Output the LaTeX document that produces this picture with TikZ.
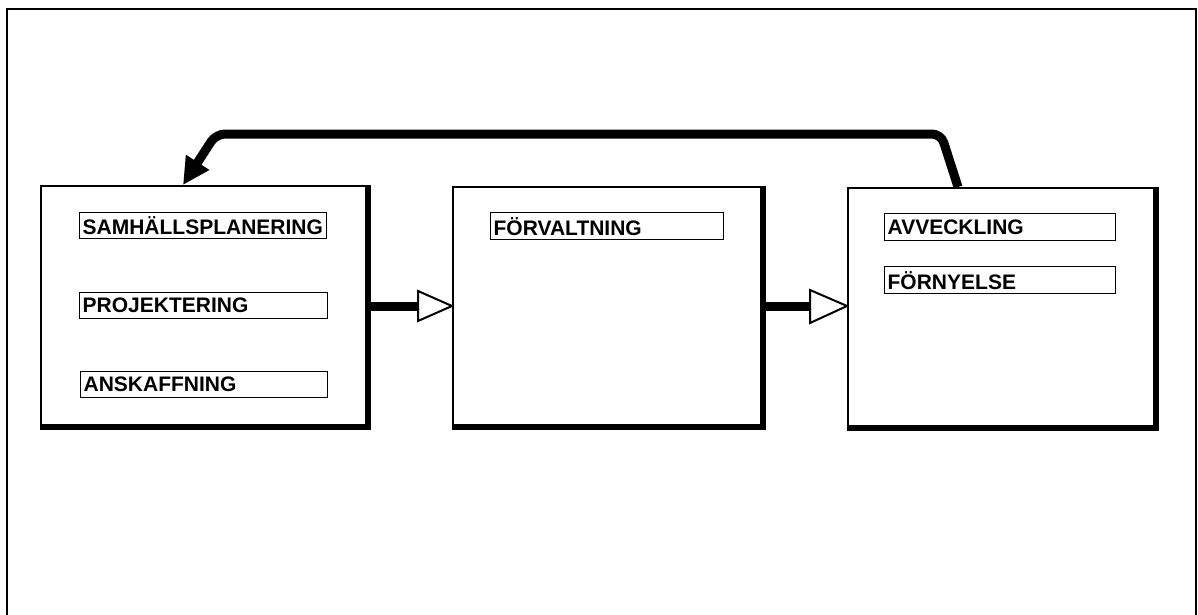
\documentclass[tikz,border=0pt]{standalone}
\usepackage{fontspec}
\setmainfont{Liberation Sans}
\usetikzlibrary{arrows.meta,calc}
\tikzset{
  mainbox/.style={draw, line width=1.6pt, anchor=north west, inner sep=0pt},
  lab/.style={draw, line width=1.3pt, anchor=north west, inner xsep=3pt, inner ysep=0pt,
    align=left, font=\fontsize{21}{22}\selectfont\bfseries},
  shadowedge/.style={line width=5pt, line cap=rect},
  shaft/.style={line width=9pt},
  openhead/.style={draw, fill=white, line width=2pt, line join=miter},
  feedback/.style={line width=9pt, rounded corners=9pt, -{Triangle[length=27pt,width=26pt]}}
}
\begin{document}
\begin{tikzpicture}[x=1pt,y=-1pt]
\useasboundingbox (0,0) rectangle (1198,615);
% outer frame (open at bottom)
\draw[line width=1.8pt] (7,615) -- (7,9) -- (1196,9) -- (1196,615);

% main boxes
\node[mainbox, minimum width=325pt, minimum height=239pt] (b1) at (40,185) {};
\node[mainbox, minimum width=308pt, minimum height=238pt] (b2) at (452,186) {};
\node[mainbox, minimum width=306pt, minimum height=238pt] (b3) at (847,187) {};
\foreach \b in {b1,b2,b3}{
  \draw[shadowedge] ([shift={(1.5pt,-2pt)}]\b.north east) -- ([shift={(1.5pt,-1.5pt)}]\b.south east) -- ([shift={(2pt,-1.5pt)}]\b.south west);
}

% labels
\node[lab, text width=241pt, minimum height=26pt] (l1) at (79,212) {SAMHÄLLSPLANERING};
\node[lab, text width=242pt, minimum height=26pt] (l2) at (79,292) {PROJEKTERING};
\node[lab, text width=241pt, minimum height=26pt] (l3) at (80,371) {ANSKAFFNING};
\node[lab, text width=227pt, minimum height=27pt] (l4) at (490,212) {FÖRVALTNING};
\node[lab, text width=225pt, minimum height=27pt] (l5) at (884,213) {AVVECKLING};
\node[lab, text width=225pt, minimum height=27pt] (l6) at (884,266) {FÖRNYELSE};

% forward arrows
\coordinate (t1) at (b2.west |- 0,306);
\coordinate (t2) at (b3.west |- 0,306);
\draw[shaft] (b1.east |- t1) -- ([xshift=-33pt]t1);
\draw[openhead] ([xshift=-34pt,yshift=15pt]t1) -- (t1) -- ([xshift=-34pt,yshift=-15pt]t1) -- cycle;
\draw[shaft] (b2.east |- t2) -- ([xshift=-36pt]t2);
\draw[openhead] ([xshift=-37pt,yshift=16pt]t2) -- (t2) -- ([xshift=-37pt,yshift=-17pt]t2) -- cycle;

% feedback arrow
\draw[feedback] ([xshift=111pt]b3.north west) -- (941,134) -- (216,134) -- ([xshift=143pt]b1.north west);
\end{tikzpicture}
\end{document}
